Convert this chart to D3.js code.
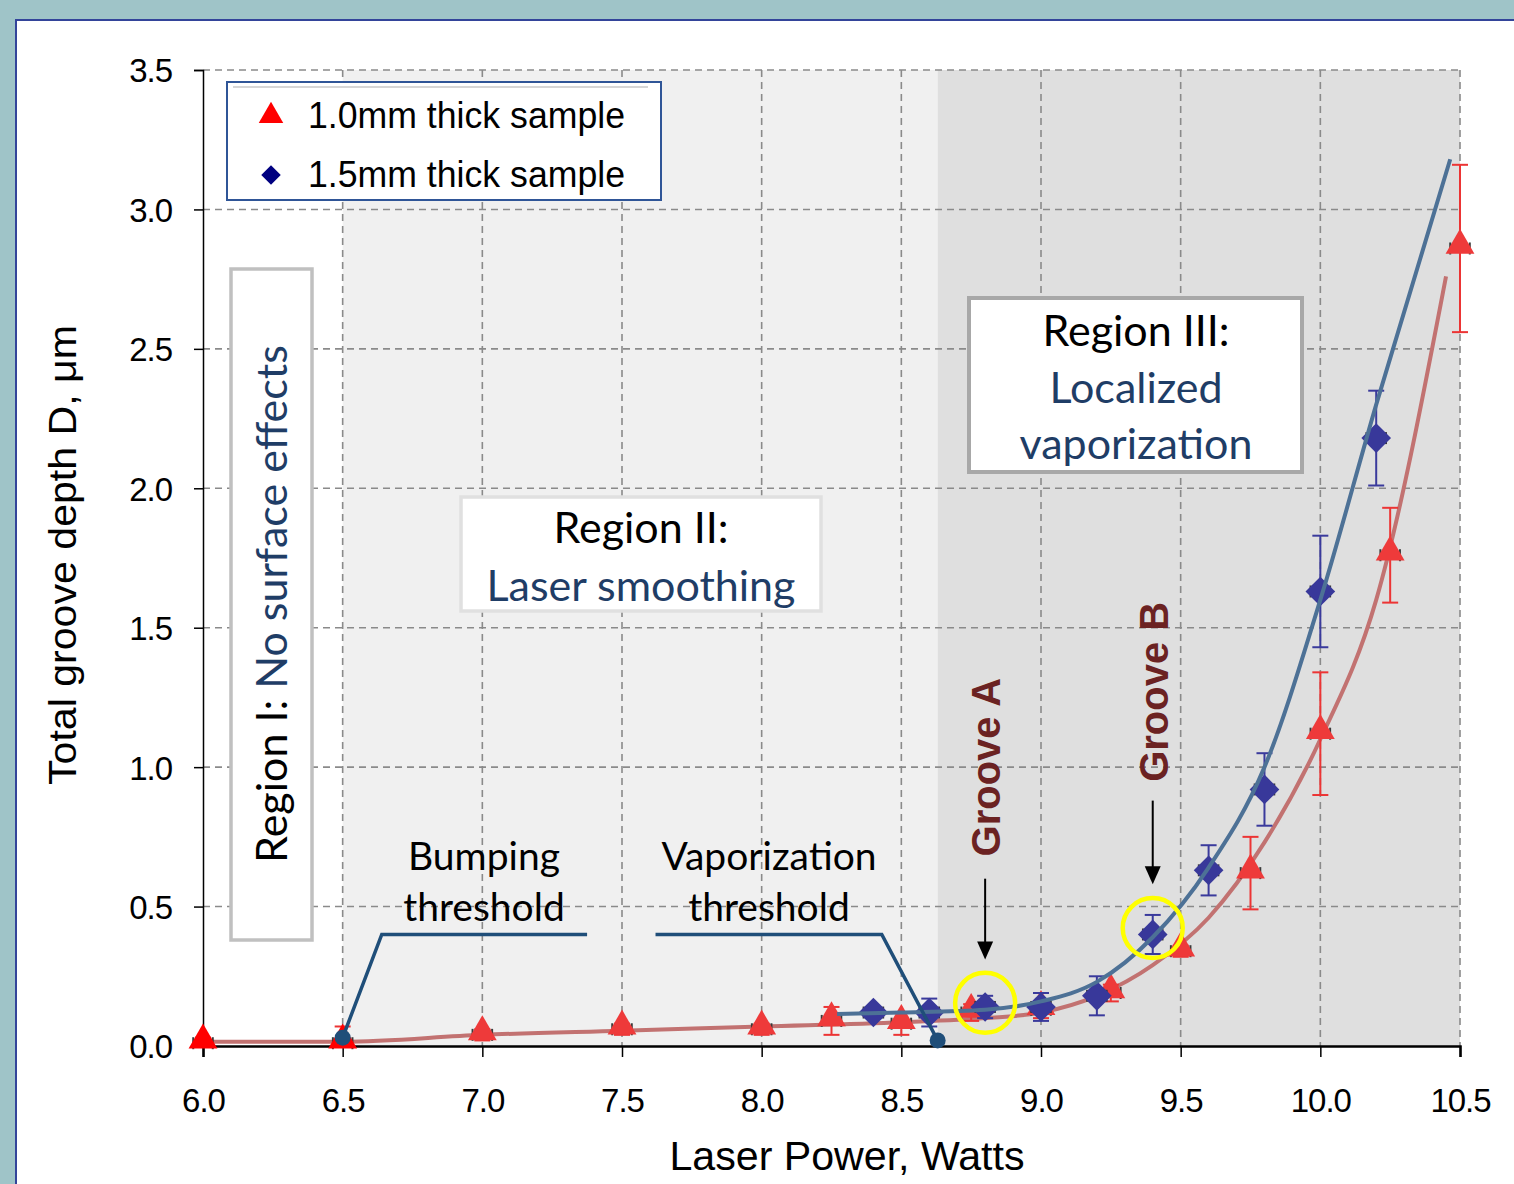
<!DOCTYPE html>
<html>
<head>
<meta charset="utf-8">
<script src="https://cdn.jsdelivr.net/npm/d3@7"></script>
<style>
  body { margin: 0; background: #9fc4c8; }
  svg { display: block; }
</style>
</head>
<body>
<svg id="chart"></svg>
<script>
const WIDTH = 1514;
const HEIGHT = 1184;

/* tick values */
const xTicks = [6.0, 6.5, 7.0, 7.5, 8.0, 8.5, 9.0, 9.5, 10.0, 10.5];
const yTicks = [0.0, 0.5, 1.0, 1.5, 2.0, 2.5, 3.0, 3.5];

/* 1.0mm thick sample (red triangles) */
const thinPower = [6.0, 6.5, 7.0, 7.5, 8.0, 8.25, 8.5, 8.75, 9.0, 9.25, 9.5, 9.75, 10.0, 10.25, 10.5];
const thinDepth = [0.01, 0.01, 0.04, 0.06, 0.06, 0.09, 0.08, 0.12, 0.13, 0.19, 0.34, 0.62, 1.12, 1.76, 2.86];
const thinErr = [0.02, 0.06, 0.02, 0.02, 0.02, 0.05, 0.04, 0.03, 0.03, 0.03, 0.02, 0.13, 0.22, 0.17, 0.30];

/* 1.5mm thick sample (blue diamonds) */
const thickPower = [8.4, 8.6, 8.8, 9.0, 9.2, 9.4, 9.6, 9.8, 10.0, 10.2];
const thickDepth = [0.12, 0.12, 0.14, 0.14, 0.18, 0.40, 0.63, 0.92, 1.63, 2.18];
const thickErr = [0.02, 0.05, 0.04, 0.05, 0.07, 0.07, 0.09, 0.13, 0.20, 0.17];

const powerErr = 0.035;

/* fitted curves */
const thinFitPower = [6.0, 6.5, 7.0, 7.5, 8.0, 8.5, 8.8, 9.0, 9.2, 9.4, 9.6, 9.8, 10.0, 10.2, 10.45];
const thinFitDepth = [0.015, 0.015, 0.04, 0.055, 0.07, 0.085, 0.1, 0.12, 0.18, 0.29, 0.46, 0.73, 1.1, 1.6, 2.76];
const thickFitPower = [8.27, 8.5, 8.8, 9.0, 9.2, 9.4, 9.6, 9.8, 10.0, 10.2, 10.465];
const thickFitDepth = [0.115, 0.12, 0.13, 0.16, 0.23, 0.39, 0.64, 1.0, 1.6, 2.3, 3.18];

/* region bounds (W) */
const regionBounds = [6.0, 6.5, 8.63, 10.5];
const regionFills = ["#ffffff", "#f0f0f0", "#dfdfdf"];

/* threshold callouts: [power, depth] */
const bumpingLine = [[6.5, 0.03], [6.64, 0.4], [7.375, 0.4]];
const vaporLine = [[7.62, 0.4], [8.43, 0.4], [8.63, 0.02]];

/* grooves: circled point and label */
const grooves = [
  { name: "Groove A", power: 8.8, depth: 0.155, arrowTop: 0.6, arrowTip: 0.31, labelMid: 1.0 },
  { name: "Groove B", power: 9.4, depth: 0.423, arrowTop: 0.88, arrowTip: 0.58, labelMid: 1.27 },
];

const svg = d3.select("#chart").attr("width", WIDTH).attr("height", HEIGHT);

/* white slide panel */
svg.append("rect")
  .attr("x", 16).attr("y", 20)
  .attr("width", WIDTH + 10).attr("height", HEIGHT)
  .attr("fill", "#ffffff")
  .attr("stroke", "#33449a")
  .attr("stroke-width", 2);

const x = d3.scaleLinear().domain([6.0, 10.5]).range([203, 1460]);
const y = d3.scaleLinear().domain([0, 3.5]).range([1046, 70]);

/* region backgrounds */
svg.append("g")
  .selectAll("rect")
  .data(regionFills)
  .enter()
  .append("rect")
  .attr("x", (d, i) => x(regionBounds[i]))
  .attr("width", (d, i) => x(regionBounds[i + 1]) - x(regionBounds[i]))
  .attr("y", y(3.5))
  .attr("height", y(0) - y(3.5))
  .attr("fill", (d) => d);

/* dashed gridlines */
const grid = svg.append("g")
  .attr("stroke", "#8a8a8a")
  .attr("stroke-width", 1.6)
  .attr("stroke-dasharray", "7,5");
grid.selectAll(".hgrid")
  .data(yTicks.slice(1))
  .enter()
  .append("line")
  .attr("x1", x(6.0)).attr("x2", x(10.5))
  .attr("y1", (d) => y(d)).attr("y2", (d) => y(d));
grid.selectAll(".vgrid")
  .data(xTicks.slice(1))
  .enter()
  .append("line")
  .attr("y1", y(3.5)).attr("y2", y(0))
  .attr("x1", (d) => x(d)).attr("x2", (d) => x(d));

/* axes */
const xAxis = svg.append("g")
  .attr("transform", `translate(0,${y(0)})`)
  .call(d3.axisBottom(x).tickValues(xTicks).tickSize(11).tickPadding(32).tickFormat(d3.format(".1f")));
xAxis.select(".domain").attr("stroke-width", 2.5);
const yAxis = svg.append("g")
  .attr("transform", `translate(${x(6.0)},0)`)
  .call(d3.axisLeft(y).tickValues(yTicks).tickSize(9).tickPadding(22).tickFormat(d3.format(".1f")));
yAxis.select(".domain").attr("stroke-width", 1.5);
svg.selectAll(".tick line").attr("stroke-width", 1.5);
svg.selectAll(".tick text")
  .attr("font-family", "Liberation Sans, Arial, sans-serif")
  .attr("font-size", 33)
  .attr("letter-spacing", -1)
  .attr("fill", "#000");
yAxis.selectAll(".tick text").attr("dy", "0.36em");

/* axis titles */
svg.append("text")
  .attr("x", 847).attr("y", 1170)
  .attr("text-anchor", "middle")
  .attr("font-family", "Liberation Sans, Arial, sans-serif")
  .attr("font-size", 40)
  .attr("textLength", 355)
  .attr("lengthAdjust", "spacingAndGlyphs")
  .text("Laser Power, Watts");
svg.append("text")
  .attr("transform", "translate(76,555) rotate(-90)")
  .attr("text-anchor", "middle")
  .attr("font-family", "Liberation Sans, Arial, sans-serif")
  .attr("font-size", 38)
  .attr("textLength", 460)
  .attr("lengthAdjust", "spacingAndGlyphs")
  .text("Total groove depth D, \u03bcm");

/* fitted curves */
const fitLine = d3.line()
  .x((d) => x(d[0]))
  .y((d) => y(d[1]))
  .curve(d3.curveMonotoneX);
svg.append("path")
  .attr("d", fitLine(thinFitPower.map((p, i) => [p, thinFitDepth[i]])))
  .attr("fill", "none")
  .attr("stroke", "#c27271")
  .attr("stroke-width", 4);

/* error bars */
function drawErrors(powers, depths, errs, color) {
  const g = svg.append("g");
  powers.forEach((p, i) => {
    const cx = x(p);
    const top = y(depths[i] + errs[i]);
    const bot = y(Math.max(0, depths[i] - errs[i]));
    g.append("line").attr("x1", cx).attr("x2", cx).attr("y1", top).attr("y2", bot)
      .attr("stroke", color).attr("stroke-width", 2);
    [top, bot].forEach((yy) => {
      g.append("line").attr("x1", cx - 8).attr("x2", cx + 8).attr("y1", yy).attr("y2", yy)
        .attr("stroke", color).attr("stroke-width", 2);
    });
    const cy = y(depths[i]);
    const xl = x(p - powerErr);
    const xr = x(p + powerErr);
    g.append("line").attr("x1", xl).attr("x2", xr).attr("y1", cy).attr("y2", cy)
      .attr("stroke", "#3a3a3a").attr("stroke-width", 2);
    [xl, xr].forEach((xx) => {
      g.append("line").attr("x1", xx).attr("x2", xx).attr("y1", cy - 6).attr("y2", cy + 6)
        .attr("stroke", "#3a3a3a").attr("stroke-width", 2);
    });
  });
}

drawErrors(thinPower, thinDepth, thinErr, "#ec3434");

svg.append("g")
  .selectAll("path")
  .data(thinPower)
  .enter()
  .append("path")
  .attr("d", d3.symbol().type(d3.symbolTriangle).size(360))
  .attr("transform", (d, i) => `translate(${x(d)},${y(thinDepth[i]) - 3})`)
  .attr("fill", (d, i) => (i < 2 ? "#ff0000" : "#ee3a3a"));

drawErrors(thickPower, thickDepth, thickErr, "#3a3a9c");

svg.append("g")
  .selectAll("path")
  .data(thickPower)
  .enter()
  .append("path")
  .attr("d", d3.symbol().type(d3.symbolSquare).size(440))
  .attr("transform", (d, i) => `translate(${x(d)},${y(thickDepth[i])}) rotate(45)`)
  .attr("fill", "#38389a");

svg.append("path")
  .attr("d", fitLine(thickFitPower.map((p, i) => [p, thickFitDepth[i]])))
  .attr("fill", "none")
  .attr("stroke", "#4d7196")
  .attr("stroke-width", 4);

/* threshold callouts */
const calloutLine = d3.line().x((d) => x(d[0])).y((d) => y(d[1]));
[bumpingLine, vaporLine].forEach((pts) => {
  svg.append("path")
    .attr("d", calloutLine(pts))
    .attr("fill", "none")
    .attr("stroke", "#1f4e79")
    .attr("stroke-width", 3.5);
});
svg.append("g")
  .selectAll("circle")
  .data([bumpingLine[0], vaporLine[2]])
  .enter()
  .append("circle")
  .attr("cx", (d) => x(d[0]))
  .attr("cy", (d) => y(d[1]))
  .attr("r", 8)
  .attr("fill", "#1f4e79");

const calibri = "Lato, 'Open Sans', sans-serif";
function textLines(cx, lines, fontSize) {
  lines.forEach((l) => {
    svg.append("text")
      .attr("x", cx).attr("y", l.y)
      .attr("text-anchor", "middle")
      .attr("font-family", calibri)
      .attr("font-size", fontSize)
      .attr("fill", l.color || "#000")
      .text(l.text);
  });
}
textLines(484, [{ text: "Bumping", y: 870 }, { text: "threshold", y: 921 }], 39);
textLines(769, [{ text: "Vaporization", y: 870 }, { text: "threshold", y: 921 }], 39);

/* region labels */
svg.append("rect")
  .attr("x", 231).attr("y", 269).attr("width", 81).attr("height", 671)
  .attr("fill", "#fff").attr("stroke", "#c0c0c0").attr("stroke-width", 3.5);
const r1 = svg.append("text")
  .attr("transform", "translate(287,604) rotate(-90)")
  .attr("text-anchor", "middle")
  .attr("font-family", calibri)
  .attr("font-size", 43);
r1.append("tspan").attr("fill", "#000").text("Region I: ");
r1.append("tspan").attr("fill", "#1f3d66").text("No surface effects");

svg.append("rect")
  .attr("x", 461).attr("y", 497).attr("width", 360).attr("height", 114)
  .attr("fill", "#fff").attr("stroke", "#e0e0e0").attr("stroke-width", 3.5);
textLines(641, [{ text: "Region II:", y: 543 }, { text: "Laser smoothing", y: 601, color: "#1f3d66" }], 43);

svg.append("rect")
  .attr("x", 969).attr("y", 298).attr("width", 333).attr("height", 174)
  .attr("fill", "#fff").attr("stroke", "#a8a8a8").attr("stroke-width", 4);
textLines(1136, [
  { text: "Region III:", y: 346 },
  { text: "Localized", y: 403, color: "#1f3d66" },
  { text: "vaporization", y: 459, color: "#1f3d66" },
], 43);

/* grooves: yellow rings, arrows, labels */
grooves.forEach((g) => {
  svg.append("circle")
    .attr("cx", x(g.power)).attr("cy", y(g.depth)).attr("r", 30)
    .attr("fill", "none").attr("stroke", "#ffff00").attr("stroke-width", 4.5);
  const ax = x(g.power);
  svg.append("line")
    .attr("x1", ax).attr("x2", ax)
    .attr("y1", y(g.arrowTop)).attr("y2", y(g.arrowTip) - 16)
    .attr("stroke", "#000").attr("stroke-width", 2);
  svg.append("path")
    .attr("d", `M${ax - 8},${y(g.arrowTip) - 18}L${ax + 8},${y(g.arrowTip) - 18}L${ax},${y(g.arrowTip)}Z`)
    .attr("fill", "#000");
  svg.append("text")
    .attr("transform", `translate(${ax + 15},${y(g.labelMid)}) rotate(-90)`)
    .attr("text-anchor", "middle")
    .attr("font-family", "Liberation Sans, Arial, sans-serif")
    .attr("font-weight", "bold")
    .attr("font-size", 40)
    .attr("fill", "#6b2222")
    .text(g.name);
});

/* legend */
const legend = svg.append("g");
legend.append("rect")
  .attr("x", 227).attr("y", 82).attr("width", 434).attr("height", 118)
  .attr("fill", "#fff").attr("stroke", "#2f5597").attr("stroke-width", 2);
legend.append("line")
  .attr("x1", 233).attr("x2", 648).attr("y1", 87).attr("y2", 87)
  .attr("stroke", "#c8c8c8").attr("stroke-width", 1.5);
const legendItems = [
  { label: "1.0mm thick sample", symbol: d3.symbolTriangle, color: "#ff0000", rot: 0, size: 260 },
  { label: "1.5mm thick sample", symbol: d3.symbolSquare, color: "#000080", rot: 45, size: 190 },
];
legendItems.forEach((d, i) => {
  const ly = 116 + i * 59;
  legend.append("path")
    .attr("d", d3.symbol().type(d.symbol).size(d.size))
    .attr("transform", `translate(271,${ly}) rotate(${d.rot})`)
    .attr("fill", d.color);
  legend.append("text")
    .attr("x", 308).attr("y", ly + 12)
    .attr("font-family", "Liberation Sans, Arial, sans-serif")
    .attr("font-size", 36)
    .attr("textLength", 317)
    .attr("lengthAdjust", "spacingAndGlyphs")
    .text(d.label);
});
</script>
</body>
</html>
